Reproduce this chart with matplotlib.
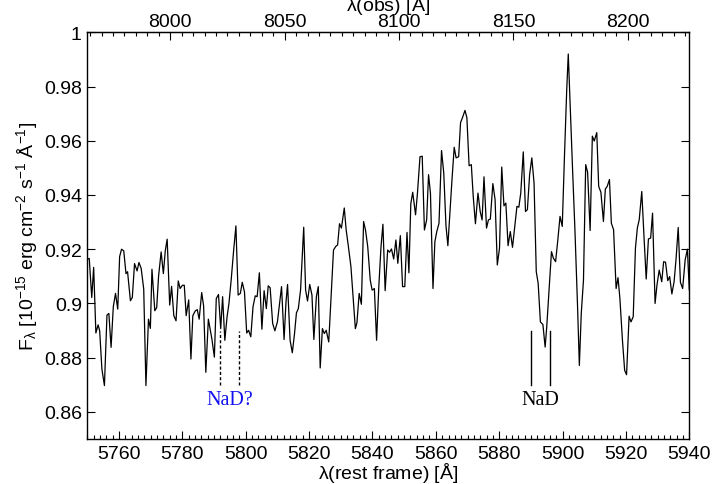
import numpy as np
import matplotlib
matplotlib.use("Agg")
import matplotlib.pyplot as plt
from matplotlib.ticker import MultipleLocator

# ----------------------------------------------------------------------
# Spectrum (rest-frame wavelength, flux)
# ----------------------------------------------------------------------
REDSHIFT_FACTOR = 1.385  # obs = rest * (1 + z)

wave_rest = [
    5750.0, 5750.6, 5751.4, 5752.0, 5752.7, 5753.4, 5753.9, 5754.6, 5755.4, 5756.2,
    5756.8, 5757.5, 5758.2, 5758.9, 5759.6, 5760.2, 5760.8, 5761.5, 5762.2, 5762.7,
    5763.6, 5764.2, 5764.9, 5765.7, 5766.3, 5767.0, 5767.8, 5768.5, 5769.3, 5769.9,
    5770.4, 5771.3, 5771.9, 5772.5, 5773.3, 5774.0, 5774.6, 5775.2, 5776.0, 5776.6,
    5777.3, 5778.0, 5778.7, 5779.3, 5780.0, 5780.6, 5781.2, 5782.0, 5782.7, 5783.3,
    5784.1, 5784.7, 5785.3, 5786.1, 5786.7, 5787.4, 5788.2,
    5789.3, 5790.1, 5790.7, 5791.4, 5792.1, 5792.7, 5793.4, 5794.1, 5794.7, 5795.4,
    5796.2, 5796.9, 5797.6, 5798.3, 5798.9, 5799.6, 5800.3, 5800.9, 5801.6, 5802.3,
    5803.0, 5803.6, 5804.3, 5805.1, 5805.8, 5806.5, 5807.1, 5807.7, 5808.5, 5809.2,
    5810.0, 5810.7, 5811.3, 5812.1, 5812.7, 5813.2, 5814.0, 5814.7, 5815.4, 5816.0,
    5816.6, 5817.3, 5818.3, 5818.9, 5819.5, 5820.2, 5820.9, 5821.5, 5822.3, 5822.9,
    5823.5, 5824.2, 5824.8, 5825.4, 5826.2,
    5827.7, 5828.4, 5829.0, 5829.6, 5830.2, 5831.1, 5831.7, 5832.4, 5833.2, 5833.8,
    5834.6, 5835.1, 5835.8, 5836.5, 5837.2, 5837.8, 5838.5, 5839.3, 5839.9, 5840.6,
    5841.3, 5842.0, 5842.7, 5843.3, 5844.0, 5844.8, 5845.4, 5846.0, 5846.7, 5847.4,
    5848.0, 5848.8, 5849.5, 5850.2, 5850.9, 5851.5, 5852.1, 5852.7, 5853.6, 5854.2,
    5855.0, 5855.7, 5856.4, 5857.1, 5857.7, 5858.3, 5859.1, 5859.7, 5860.3, 5861.0,
    5861.8, 5862.5, 5863.2, 5863.8,
    5864.3, 5865.1, 5865.8, 5866.4, 5867.2, 5867.8, 5868.4, 5869.2, 5869.8, 5870.5,
    5871.2, 5871.8, 5872.5, 5873.3, 5874.0, 5874.6, 5875.2, 5876.0, 5876.6, 5877.2,
    5878.0, 5878.7, 5879.4, 5880.1, 5880.8, 5881.5, 5882.1, 5882.8, 5883.5, 5884.2,
    5884.9, 5885.6, 5886.2, 5886.8, 5887.6, 5888.3, 5888.9, 5889.6, 5890.3, 5891.0,
    5891.7, 5892.3, 5893.0, 5893.8, 5894.5, 5895.0, 5895.8, 5896.5, 5897.1, 5897.8,
    5898.5, 5899.2, 5899.9, 5900.6, 5901.3,
    5901.8, 5902.6, 5903.2, 5903.9, 5904.7, 5905.3, 5905.9, 5906.6, 5907.3, 5907.9,
    5908.7, 5909.4, 5910.0, 5910.8, 5911.4, 5912.1, 5912.9, 5913.5, 5914.1, 5914.8,
    5915.4, 5916.1, 5916.9, 5917.5, 5918.1, 5918.9, 5919.6, 5920.2, 5921.0, 5921.6,
    5922.3, 5923.0, 5923.6, 5924.2, 5925.0, 5925.7, 5926.4, 5927.1, 5927.8, 5928.4,
    5929.2, 5929.8, 5930.5, 5931.3, 5931.9, 5932.5, 5933.2, 5933.8, 5934.5, 5935.2,
    5935.8, 5936.5, 5937.2, 5937.9, 5938.7, 5939.4, 5940.0,
]

flux = [
    0.9163, 0.9166, 0.9022, 0.9133, 0.8891, 0.8921, 0.8899, 0.8758, 0.8697, 0.8957,
    0.8963, 0.8838, 0.8988, 0.9037, 0.8979, 0.9173, 0.9200, 0.9194, 0.9110, 0.9117,
    0.9010, 0.9022, 0.9147, 0.9120, 0.9151, 0.9129, 0.9053, 0.8697, 0.8942, 0.8908,
    0.9126, 0.8973, 0.8985, 0.9102, 0.9190, 0.9110, 0.9194, 0.9237, 0.8994, 0.9063,
    0.8955, 0.8936, 0.9083, 0.9055, 0.9067, 0.9067, 0.8955, 0.9013, 0.8795, 0.8955,
    0.8973, 0.8977, 0.8942, 0.9040, 0.8991, 0.8746, 0.8942,
    0.8870, 0.8802, 0.9018, 0.9033, 0.8907, 0.9025, 0.8864, 0.8950, 0.9000, 0.9086,
    0.9198, 0.9286, 0.9031, 0.9037, 0.9078, 0.9043, 0.8891, 0.8901, 0.8877, 0.8988,
    0.9028, 0.9025, 0.9113, 0.8905, 0.9047, 0.8981, 0.9065, 0.9058, 0.8926, 0.8899,
    0.8932, 0.9002, 0.9062, 0.8867, 0.9004, 0.9070, 0.8864, 0.8818, 0.8889, 0.8965,
    0.8981, 0.9049, 0.9281, 0.9049, 0.9009, 0.9070, 0.9031, 0.8867, 0.9025, 0.9062,
    0.8762, 0.8907, 0.8889, 0.8901, 0.8858,
    0.9197, 0.9210, 0.9216, 0.9294, 0.9278, 0.9352, 0.9271, 0.9210, 0.9136, 0.9037,
    0.8907, 0.8929, 0.9037, 0.8997, 0.9302, 0.9271, 0.9210, 0.9086, 0.9049, 0.9055,
    0.8864, 0.9062, 0.9210, 0.9292, 0.9047, 0.9197, 0.9189, 0.9201, 0.9164, 0.9234,
    0.9148, 0.9250, 0.9062, 0.9062, 0.9262, 0.9113, 0.9368, 0.9410, 0.9327, 0.9407,
    0.9541, 0.9543, 0.9271, 0.9308, 0.9475, 0.9407, 0.9055, 0.9228, 0.9265, 0.9296,
    0.9564, 0.9481, 0.9287, 0.9213,
    0.9308, 0.9457, 0.9576, 0.9537, 0.9541, 0.9667, 0.9685, 0.9712, 0.9685, 0.9508,
    0.9512, 0.9395, 0.9294, 0.9407, 0.9339, 0.9308, 0.9467, 0.9278, 0.9308, 0.9311,
    0.9442, 0.9383, 0.9142, 0.9204, 0.9503, 0.9360, 0.9370, 0.9213, 0.9265, 0.9207,
    0.9284, 0.9358, 0.9355, 0.9407, 0.9559, 0.9339, 0.9346, 0.9475, 0.9537, 0.9444,
    0.9117, 0.9074, 0.8932, 0.8922, 0.8839, 0.8913, 0.9062, 0.9191, 0.9167, 0.9154,
    0.9234, 0.9321, 0.9284, 0.9543, 0.9784,
    0.9920, 0.9667, 0.9481, 0.9272, 0.9000, 0.8771, 0.8963, 0.9086, 0.9512, 0.9484,
    0.9269, 0.9617, 0.9599, 0.9630, 0.9432, 0.9410, 0.9302, 0.9422, 0.9432, 0.9457,
    0.9296, 0.9272, 0.9055, 0.9095, 0.9018, 0.8864, 0.8753, 0.8737, 0.8953, 0.8932,
    0.8951, 0.9204, 0.9278, 0.9309, 0.9413, 0.9247, 0.9090, 0.9238, 0.9241, 0.9333,
    0.9000, 0.9068, 0.9123, 0.9080, 0.9154, 0.9152, 0.9084, 0.9099, 0.9035, 0.9080,
    0.9161, 0.9280, 0.9078, 0.9055, 0.9161, 0.9200, 0.9050,
]

y_ticks = [0.86, 0.88, 0.90, 0.92, 0.94, 0.96, 0.98, 1.0]
y_tick_labels = ["0.86", "0.88", "0.9", "0.92", "0.94", "0.96", "0.98", "1"]

# line markers: NaD doublet, and a tentative one at lower wavelength
nad_lines = [5890.0, 5896.0]
nad_q_lines = [5791.9, 5797.9]
marker_y = (0.870, 0.890)

FS = 14

plt.rcParams["font.family"] = ["Liberation Sans", "DejaVu Sans"]
plt.rcParams["mathtext.fontset"] = "custom"
plt.rcParams["mathtext.rm"] = "Liberation Sans"
plt.rcParams["mathtext.it"] = "Liberation Sans:italic"
plt.rcParams["mathtext.default"] = "regular"

fig = plt.figure(figsize=(7.14, 4.85), dpi=100)
ax = fig.add_axes([0.1223, 0.0928, 0.8431, 0.8385])

ax.plot(wave_rest, flux, color="black", linewidth=0.9)

for x in nad_q_lines:
    ax.plot([x, x], marker_y, color="black", linewidth=1.0, linestyle=(0, (2.2, 1.6)))
for x in nad_lines:
    ax.plot([x, x], marker_y, color="black", linewidth=1.0)

serif = ["Liberation Serif", "DejaVu Serif"]
ax.text(np.mean(nad_q_lines), 0.8645, "NaD?", color="#1010f0", ha="center", va="center",
        fontsize=14.5, family=serif)
ax.text(np.mean(nad_lines), 0.8645, "NaD", color="black", ha="center", va="center",
        fontsize=14.5, family=serif)

ax.set_xlim(5750, 5940)
ax.set_ylim(0.85, 1.0)
ax.xaxis.set_major_locator(MultipleLocator(20))
ax.xaxis.set_minor_locator(MultipleLocator(2))
ax.set_yticks(y_ticks)
ax.set_yticklabels(y_tick_labels)

ax.tick_params(axis="both", which="both", direction="in", labelsize=FS)
ax.tick_params(axis="x", which="major", length=5.5, width=0.8, pad=4)
ax.tick_params(axis="x", which="minor", length=3, width=0.8)
ax.tick_params(axis="y", which="major", length=5.5, width=0.8, pad=4, right=True)
for s in ax.spines.values():
    s.set_linewidth(1.0)

ax.set_xlabel(r"$\lambda$(rest frame) [Å]", fontsize=FS, labelpad=-1)
ax.set_ylabel(r"F$_\lambda$ [10$^{-15}$ erg cm$^{-2}$ s$^{-1}$ Å$^{-1}$]", fontsize=FS, labelpad=3)

# observed-frame axis on top
top = ax.secondary_xaxis("top", functions=(lambda w: w * REDSHIFT_FACTOR,
                                          lambda w: w / REDSHIFT_FACTOR))
top.xaxis.set_major_locator(MultipleLocator(50))
top.xaxis.set_minor_locator(MultipleLocator(5))
top.tick_params(axis="x", which="both", direction="in", labelsize=FS)
top.tick_params(axis="x", which="major", length=5.5, width=0.8, pad=2)
top.tick_params(axis="x", which="minor", length=3, width=0.8)
top.set_xlabel(r"$\lambda$(obs) [Å]", fontsize=FS, labelpad=2)

fig.savefig("out.png", dpi=100)
